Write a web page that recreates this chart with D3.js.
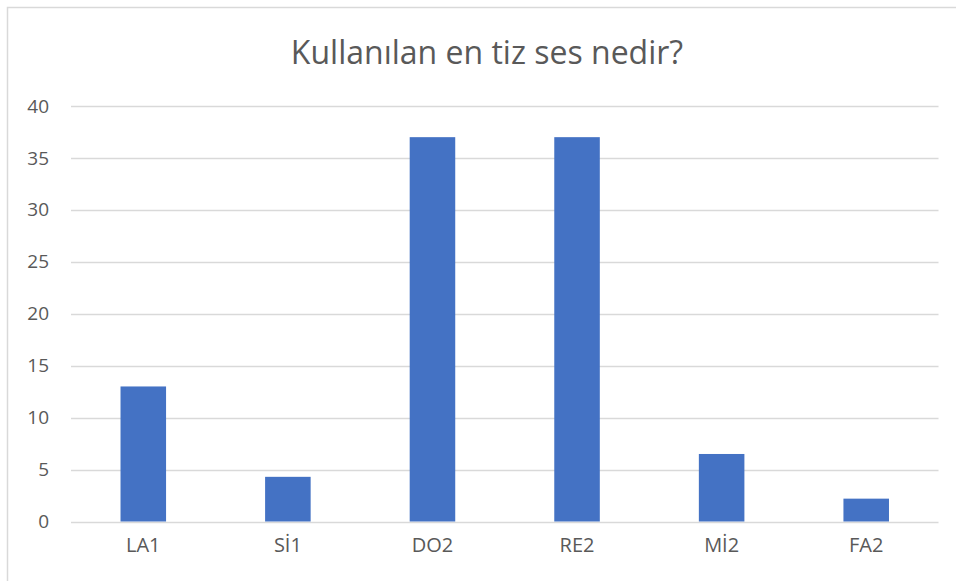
<!DOCTYPE html>
<html>
<head>
<meta charset="utf-8">
<script src="https://cdn.jsdelivr.net/npm/d3@7"></script>
<style>
html,body{margin:0;padding:0;background:#fff;}
svg{display:block;}
</style>
</head>
<body>
<svg id="chart" width="956" height="581"></svg>
<script>
const title = "Kullanılan en tiz ses nedir?";
const categories = ["LA1", "Sİ1", "DO2", "RE2", "Mİ2", "FA2"];
const values = [13, 4.3, 37, 37, 6.5, 2.2];
const yTicks = [0, 5, 10, 15, 20, 25, 30, 35, 40];

(function () {
const svg = d3.select("#chart");
const W = 956, H = 581;
const font = "'Open Sans', 'Liberation Sans', sans-serif";

// chart frame
svg.append("rect").attr("x", 7.5).attr("y", 7.5).attr("width", W + 10).attr("height", H + 10)
  .attr("fill", "#fff").attr("stroke", "#D9D9D9").attr("stroke-width", 1.5);

const pLeft = 71, pRight = 938.5, pTop = 106, pBottom = 521.5;
const x = d3.scaleBand().domain(categories).range([pLeft, pRight]).padding(0);
const y = d3.scaleLinear().domain([0, 40]).range([pBottom, pTop]);

// gridlines
svg.append("g").selectAll("line").data(yTicks).join("line")
  .attr("x1", pLeft).attr("x2", pRight)
  .attr("y1", d => Math.round(y(d)) + 0.5).attr("y2", d => Math.round(y(d)) + 0.5)
  .attr("stroke", "#D9D9D9").attr("stroke-width", 1.5);

// y axis labels
const yAxis = d3.axisLeft(y).tickValues(yTicks).tickSize(0).tickPadding(0);
const gy = svg.append("g").attr("transform", "translate(49,0)").call(yAxis);
gy.select(".domain").remove();
gy.selectAll("text").attr("fill", "#595959").style("font-family", font).style("font-size", "19px");

// bars
const bw = x.bandwidth() * 0.315;
svg.append("g").selectAll("rect").data(values).join("rect")
  .attr("x", (d, i) => x(categories[i]) + x.bandwidth() / 2 - bw / 2)
  .attr("width", bw)
  .attr("y", d => y(d))
  .attr("height", d => y(0) - y(d))
  .attr("fill", "#4472C4");

// x axis labels
const xAxis = d3.axisBottom(x).tickSize(0).tickPadding(0);
const gx = svg.append("g").attr("transform", `translate(0,${pBottom + 16})`).call(xAxis);
gx.select(".domain").remove();
gx.selectAll("text").attr("fill", "#595959").style("font-family", font).style("font-size", "20px");

// title
svg.append("text").attr("x", 487).attr("y", 64).attr("text-anchor", "middle")
  .attr("fill", "#595959").style("font-family", font).style("font-size", "32px")
  .text(title);
})();
</script>
</body>
</html>
